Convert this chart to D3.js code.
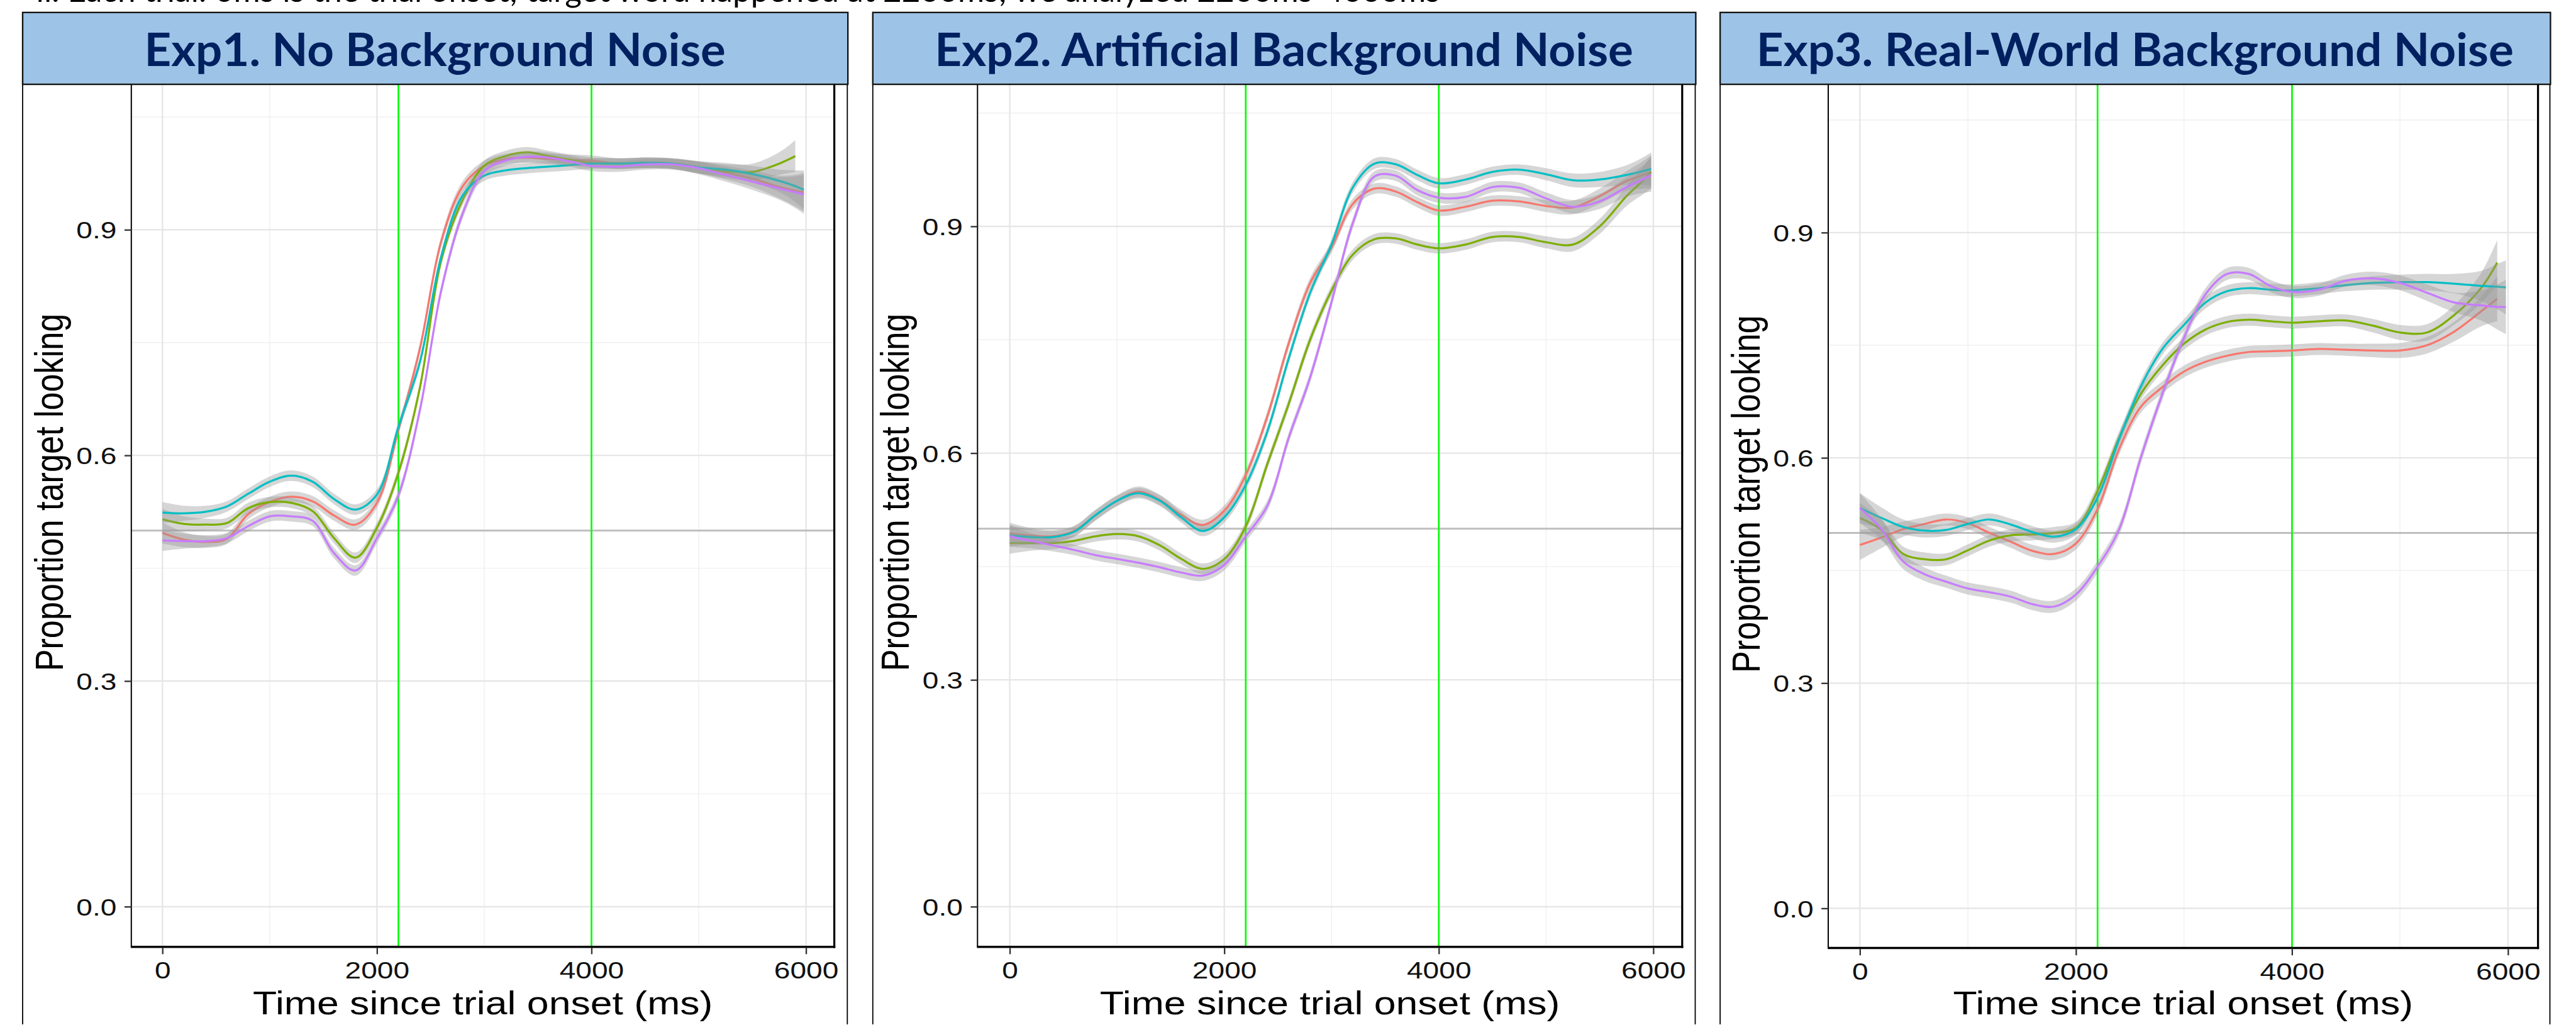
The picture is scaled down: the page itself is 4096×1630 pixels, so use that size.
<!DOCTYPE html>
<html>
<head>
<meta charset="utf-8">
<script src="https://d3js.org/d3.v7.min.js"></script>
<style>
  body { margin: 0; background: #fff; }
  svg { display: block; }
</style>
</head>
<body>
<svg id="chart"></svg>
<script>
//******************************data*****************************//
var panelTitles = ["Exp1. No Background Noise", "Exp2. Artificial Background Noise", "Exp3. Real-World Background Noise"];
var topNote = "ii. Each trial: 0ms is the trial onset; target word happened at 2200ms; we analyzed 2200ms-4000ms";
var xLabel = "Time since trial onset (ms)";
var yLabel = "Proportion target looking";
var seriesColors = ["#F8766D", "#7CAE00", "#00BFC4", "#C77CFF"];
var xTicks = [0, 2000, 4000, 6000];
var yTicks = [0, 0.3, 0.6, 0.9];
var xMinor = [1000, 3000, 5000];
var yMinor = [0.15, 0.45, 0.75, 1.05];
var markers = [2200, 4000];
var chance = 0.5;

var times = [0,200,400,600,800,1000,1200,1400,1600,1800,2000,2200,2400,2600,2800,3000,3200,3400,3600,3800,4000,4250,4500,4750,5000,5250,5500,5750,5900,5980];

var exp1Red    = [0.497,0.488,0.485,0.489,0.522,0.538,0.545,0.539,0.520,0.508,0.537,0.634,0.742,0.885,0.958,0.985,0.994,0.996,0.994,0.993,0.992,0.988,0.989,0.988,0.983,0.976,0.968,0.957,0.952,0.950];
var exp1Green  = [0.515,0.509,0.508,0.510,0.530,0.538,0.537,0.526,0.490,0.464,0.504,0.577,0.690,0.860,0.940,0.985,0.998,1.003,0.998,0.993,0.989,0.988,0.989,0.988,0.983,0.978,0.977,0.988,0.998,null];
var exp1Cyan   = [0.524,0.523,0.525,0.532,0.549,0.565,0.573,0.565,0.542,0.528,0.548,0.638,0.724,0.865,0.946,0.972,0.979,0.982,0.984,0.986,0.988,0.988,0.989,0.988,0.983,0.980,0.974,0.965,0.958,0.953];
var exp1Purple = [0.487,0.486,0.486,0.490,0.506,0.519,0.519,0.513,0.470,0.447,0.490,0.547,0.660,0.820,0.922,0.978,0.992,0.997,0.996,0.991,0.985,0.984,0.987,0.987,0.982,0.973,0.964,0.955,0.950,0.947];
var exp1Band   = [0.014,0.010,0.008,0.007,0.007,0.007,0.007,0.007,0.007,0.007,0.007,0.007,0.007,0.007,0.007,0.007,0.007,0.007,0.007,0.007,0.007,0.007,0.007,0.007,0.008,0.009,0.011,0.015,0.021,0.026];

var exp2Red    = [0.494,0.491,0.490,0.497,0.518,0.537,0.549,0.538,0.518,0.505,0.524,0.571,0.648,0.745,0.825,0.872,0.930,0.950,0.946,0.932,0.921,0.926,0.934,0.933,0.927,0.925,0.940,0.960,0.968,0.972];
var exp2Green  = [0.481,0.481,0.481,0.484,0.490,0.493,0.490,0.478,0.460,0.447,0.460,0.503,0.585,0.665,0.750,0.815,0.863,0.883,0.884,0.876,0.871,0.876,0.886,0.886,0.879,0.876,0.900,0.940,0.960,0.972];
var exp2Cyan   = [0.491,0.489,0.489,0.496,0.518,0.537,0.547,0.537,0.515,0.497,0.515,0.558,0.628,0.725,0.812,0.876,0.952,0.983,0.982,0.968,0.957,0.962,0.972,0.975,0.969,0.961,0.962,0.968,0.973,0.976];
var exp2Purple = [0.490,0.484,0.478,0.472,0.465,0.460,0.455,0.449,0.442,0.438,0.452,0.490,0.530,0.620,0.700,0.800,0.905,0.966,0.967,0.948,0.938,0.939,0.952,0.951,0.937,0.926,0.933,0.952,0.962,0.968];
var exp2Band   = [0.014,0.010,0.008,0.007,0.007,0.007,0.007,0.007,0.007,0.007,0.007,0.007,0.007,0.007,0.007,0.007,0.007,0.007,0.007,0.007,0.007,0.007,0.007,0.007,0.008,0.009,0.010,0.013,0.018,0.022];

var exp3Red    = [0.484,0.494,0.505,0.512,0.518,0.513,0.500,0.488,0.476,0.472,0.486,0.532,0.612,0.668,0.694,0.715,0.728,0.736,0.741,0.742,0.743,0.745,0.744,0.743,0.743,0.750,0.768,0.795,0.812,null];
var exp3Green  = [0.520,0.504,0.472,0.465,0.465,0.477,0.490,0.497,0.498,0.500,0.507,0.556,0.627,0.685,0.723,0.752,0.771,0.781,0.784,0.782,0.780,0.782,0.783,0.776,0.767,0.767,0.790,0.826,0.860,null];
var exp3Cyan   = [0.533,0.520,0.508,0.503,0.504,0.512,0.518,0.511,0.501,0.495,0.505,0.547,0.625,0.695,0.745,0.777,0.807,0.822,0.826,0.824,0.823,0.826,0.830,0.833,0.834,0.834,0.832,0.829,0.828,0.827];
var exp3Purple = [0.533,0.505,0.462,0.445,0.435,0.426,0.421,0.415,0.405,0.402,0.418,0.455,0.505,0.600,0.685,0.760,0.818,0.845,0.845,0.829,0.821,0.824,0.836,0.839,0.833,0.820,0.807,0.803,0.801,0.801];
var exp3Band   = [0.020,0.014,0.010,0.009,0.008,0.008,0.008,0.008,0.008,0.008,0.008,0.008,0.008,0.008,0.008,0.008,0.008,0.008,0.008,0.008,0.008,0.008,0.008,0.009,0.010,0.011,0.013,0.020,0.030,0.036];

//*****************************layout (reference pixels)********************************//
var panels = [
  {series: [exp1Red, exp1Green, exp1Cyan, exp1Purple], band: exp1Band,
   frameL: 40, frameR: 1497, axisL: 232, panelR: 1474, x0: 287, x6000: 1424, y0: 1602, y09: 406, axisB: 1673},
  {series: [exp2Red, exp2Green, exp2Cyan, exp2Purple], band: exp2Band,
   frameL: 1542, frameR: 2995, axisL: 1727, panelR: 2972, x0: 1784, x6000: 2921, y0: 1602, y09: 400, axisB: 1673},
  {series: [exp3Red, exp3Green, exp3Cyan, exp3Purple], band: exp3Band,
   frameL: 3039, frameR: 4505, axisL: 3230, panelR: 4484, x0: 3286, x6000: 4431, y0: 1605, y09: 411, axisB: 1675}
];
var boxTop = 22, boxBottom = 149;
var stretch = 1.22;   // the pasted plots are widened a bit

var svg = d3.select("#chart")
  .attr("width", 4096)
  .attr("height", 1630);

var root = svg.append("g").attr("transform", "scale(0.9)");

root.append("text")
  .attr("x", 64)
  .attr("y", 3)
  .attr("font-family", "Lato, sans-serif")
  .attr("font-size", 56)
  .attr("fill", "#000")
  .attr("textLength", 2480)
  .attr("lengthAdjust", "spacingAndGlyphs")
  .text(topNote);

var drawPanel = function(p, idx)
{
  var g = root.append("g");
  var xScale = d3.scaleLinear().domain([0, 6000]).range([p.x0, p.x6000]);
  var yScale = d3.scaleLinear().domain([0, 0.9]).range([p.y0, p.y09]);

  // frame of the pasted picture
  g.append("line").attr("x1", p.frameL).attr("x2", p.frameL).attr("y1", boxBottom).attr("y2", 1810)
    .attr("stroke", "#000").attr("stroke-width", 2);
  g.append("line").attr("x1", p.frameR).attr("x2", p.frameR).attr("y1", boxBottom).attr("y2", 1810)
    .attr("stroke", "#000").attr("stroke-width", 2);

  var clipId = "clip" + idx;
  g.append("clipPath").attr("id", clipId)
    .append("rect")
    .attr("x", p.axisL).attr("y", boxBottom)
    .attr("width", p.panelR - p.axisL).attr("height", p.axisB - boxBottom);

  var plot = g.append("g").attr("clip-path", "url(#" + clipId + ")");

  // grid
  plot.selectAll(".minorX").data(xMinor).enter().append("line")
    .attr("x1", function(d){return xScale(d);}).attr("x2", function(d){return xScale(d);})
    .attr("y1", boxBottom).attr("y2", p.axisB)
    .attr("stroke", "#F0F0F0").attr("stroke-width", 1.6);
  plot.selectAll(".minorY").data(yMinor).enter().append("line")
    .attr("x1", p.axisL).attr("x2", p.panelR)
    .attr("y1", function(d){return yScale(d);}).attr("y2", function(d){return yScale(d);})
    .attr("stroke", "#F0F0F0").attr("stroke-width", 1.6);
  plot.selectAll(".majorX").data(xTicks).enter().append("line")
    .attr("x1", function(d){return xScale(d);}).attr("x2", function(d){return xScale(d);})
    .attr("y1", boxBottom).attr("y2", p.axisB)
    .attr("stroke", "#E6E6E6").attr("stroke-width", 2.6);
  plot.selectAll(".majorY").data(yTicks).enter().append("line")
    .attr("x1", p.axisL).attr("x2", p.panelR)
    .attr("y1", function(d){return yScale(d);}).attr("y2", function(d){return yScale(d);})
    .attr("stroke", "#E6E6E6").attr("stroke-width", 2.6);

  plot.append("line")
    .attr("x1", p.axisL).attr("x2", p.panelR)
    .attr("y1", yScale(chance)).attr("y2", yScale(chance))
    .attr("stroke", "#BEBEBE").attr("stroke-width", 3.2);
  plot.selectAll(".marker").data(markers).enter().append("line")
    .attr("x1", function(d){return xScale(d);}).attr("x2", function(d){return xScale(d);})
    .attr("y1", boxBottom).attr("y2", p.axisB)
    .attr("stroke", "#00FF00").attr("stroke-width", 3);

  // smooths: ribbon then line, one group after another
  var area = d3.area()
    .defined(function(d){return d.v != null;})
    .x(function(d){return xScale(d.t);})
    .y0(function(d){return yScale(d.v - d.se);})
    .y1(function(d){return yScale(d.v + d.se);})
    .curve(d3.curveCatmullRom);
  var line = d3.line()
    .defined(function(d){return d.v != null;})
    .x(function(d){return xScale(d.t);})
    .y(function(d){return yScale(d.v);})
    .curve(d3.curveCatmullRom);

  p.series.forEach(function(vals, i)
  {
    var pts = times.map(function(t, j){return {t: t, v: vals[j], se: p.band[j]};});
    plot.append("path").datum(pts)
      .attr("d", area)
      .attr("fill", "#999999").attr("fill-opacity", 0.4);
    plot.append("path").datum(pts)
      .attr("d", line)
      .attr("fill", "none")
      .attr("stroke", seriesColors[i]).attr("stroke-width", 3.6);
  });

  // panel border
  g.append("line").attr("x1", p.axisL).attr("x2", p.axisL).attr("y1", boxBottom).attr("y2", p.axisB)
    .attr("stroke", "#000").attr("stroke-width", 2.2);
  g.append("line").attr("x1", p.panelR).attr("x2", p.panelR).attr("y1", boxBottom).attr("y2", p.axisB + 2)
    .attr("stroke", "#000").attr("stroke-width", 3.6);
  g.append("line").attr("x1", p.axisL - 1).attr("x2", p.panelR + 1.8).attr("y1", p.axisB).attr("y2", p.axisB)
    .attr("stroke", "#000").attr("stroke-width", 4);

  // axes
  var xAxis = d3.axisBottom(xScale).tickValues(xTicks).tickSize(12).tickPadding(13)
    .tickFormat(d3.format("d"));
  var gx = g.append("g")
    .attr("transform", "translate(0," + (p.axisB + 1) + ")")
    .call(xAxis);
  var yAxis = d3.axisLeft(yScale).tickValues(yTicks).tickSize(12)
    .tickFormat(d3.format(".1f"));
  var gy = g.append("g")
    .attr("transform", "translate(" + p.axisL + ",0)")
    .call(yAxis);

  [gx, gy].forEach(function(ax)
  {
    ax.select(".domain").remove();
    ax.selectAll(".tick line").attr("stroke", "#333").attr("stroke-width", 2.6);
    ax.selectAll(".tick text")
      .attr("font-family", "'Liberation Sans', Arial, sans-serif")
      .attr("font-size", 42)
      .attr("fill", "#111");
  });
  gx.selectAll(".tick text").attr("transform", "scale(" + stretch + ",1)");
  gy.selectAll(".tick text")
    .attr("x", 0)
    .attr("dy", "0.36em")
    .attr("transform", "translate(-26,0) scale(" + stretch + ",1)");

  // axis titles
  g.append("text")
    .attr("transform", "translate(" + ((p.axisL + p.panelR) / 2) + ",1792) scale(" + stretch + ",1)")
    .attr("text-anchor", "middle")
    .attr("font-family", "'Liberation Sans', Arial, sans-serif")
    .attr("font-size", 57)
    .attr("fill", "#000")
    .text(xLabel);
  g.append("text")
    .attr("transform", "translate(" + (p.axisL - 121) + "," + (p.y0 - 732) + ") scale(" + stretch + ",1) rotate(-90)")
    .attr("text-anchor", "middle")
    .attr("font-family", "'Liberation Sans', Arial, sans-serif")
    .attr("font-size", 58)
    .attr("fill", "#000")
    .text(yLabel);

  // title box
  g.append("rect")
    .attr("x", p.frameL).attr("y", boxTop)
    .attr("width", p.frameR - p.frameL + 1).attr("height", boxBottom - boxTop)
    .attr("fill", "#9DC3E6")
    .attr("stroke", "#111").attr("stroke-width", 2.6);
};

panels.forEach(drawPanel);

var titleWidths = [1027, 1234, 1338];
panels.forEach(function(p, i)
{
  root.append("text")
    .attr("x", (p.frameL + p.frameR) / 2)
    .attr("y", 117)
    .attr("text-anchor", "middle")
    .attr("font-family", "Lato, sans-serif")
    .attr("font-weight", "bold")
    .attr("font-size", 81)
    .attr("fill", "#002060")
    .attr("textLength", titleWidths[i])
    .attr("lengthAdjust", "spacingAndGlyphs")
    .text(panelTitles[i]);
});
</script>
</body>
</html>
